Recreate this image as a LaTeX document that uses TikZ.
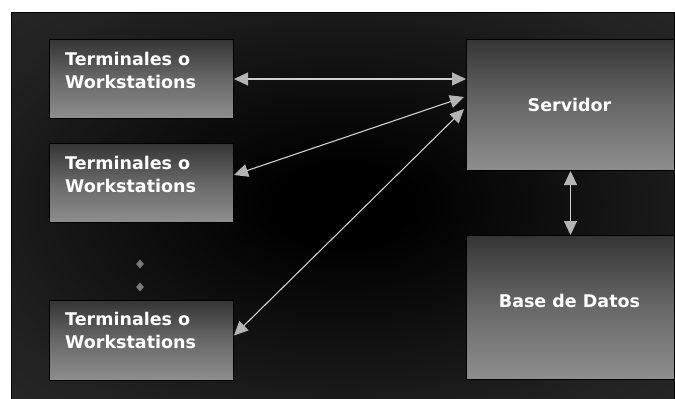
\documentclass[tikz,border=0pt]{standalone}
\usepackage{fontspec}
\setmainfont{DejaVu Sans}
\usetikzlibrary{arrows.meta,shapes.geometric,calc}

\definecolor{panelrim}{HTML}{303030}
\definecolor{boxtop}{HTML}{353535}
\definecolor{boxmid}{HTML}{686868}
\definecolor{boxbot}{HTML}{8E8E8E}
\definecolor{linkgray}{HTML}{CFCFCF}
\definecolor{tipgray}{HTML}{B4B4B4}
\definecolor{dotgray}{HTML}{7A7A7A}

% dark backdrop, black in the middle and lighter towards the rim
\pgfdeclareradialshading{panelglow}{\pgfpoint{0bp}{0bp}}{%
  color(0bp)=(black); color(5bp)=(black);
  color(30bp)=(panelrim!70!black); color(50bp)=(panelrim)}

\begin{document}
\begin{tikzpicture}[x=1pt,y=-1pt,
  unitbox/.style={draw=black, line width=1pt, rectangle, inner sep=0pt,
    anchor=north west, top color=boxtop, bottom color=boxbot,
    middle color=boxmid},
  boxtext/.style={text=white, inner sep=0pt,
    font=\fontsize{17.5}{23}\selectfont\bfseries},
  link/.style={draw=linkgray, line width=1.1pt,
    {Triangle[length=14pt,width=13pt,color=tipgray]}-{Triangle[length=14pt,width=13pt,color=tipgray]}},
  gap/.style={diamond, fill=dotgray, inner sep=0pt, minimum width=8pt,
    minimum height=9pt}]

\useasboundingbox (0,0) rectangle (675,399);

% backdrop
\shade[shading=panelglow] (11,12) rectangle (675,399);
\draw[black, line width=1pt] (11.5,399) -- (11.5,12.5) -- (674.5,12.5) -- (674.5,399);

% client boxes
\node[unitbox, minimum width=184pt, minimum height=79pt] (t1) at (49,39) {};
\node[unitbox, minimum width=184pt, minimum height=79pt] (t2) at (49,143) {};
\node[unitbox, minimum width=184pt, minimum height=80pt] (t3) at (49,300) {};

\node[boxtext, anchor=north west, align=left] (t1lbl)
  at ([shift={(16,13)}]t1.north west) {Terminales o\\Workstations};
\node[boxtext, anchor=north west, align=left] (t2lbl)
  at ([shift={(16,13)}]t2.north west) {Terminales o\\Workstations};
\node[boxtext, anchor=north west, align=left] (t3lbl)
  at ([shift={(16,12)}]t3.north west) {Terminales o\\Workstations};

% ellipsis between the clients
\node[gap] (d1) at (140,264) {};
\node[gap] (d2) at (140,287) {};

% server and database
\node[unitbox, minimum width=208pt, minimum height=131pt] (srv) at (466,39) {};
\node[unitbox, minimum width=208pt, minimum height=144pt] (bd) at (466,235) {};

\node[boxtext] (srvlbl) at ($(srv.center)+(-1,0)$) {Servidor};
\node[boxtext] (bdlbl) at ($(bd.center)+(-1,-7)$) {Base de Datos};

% connections
\draw[link] (t1.east) -- (srv.west |- t1.east);
\draw[link] ($(t2.east)+(0,-8)$) -- ($(srv.west)+(-2,-8)$);
\draw[link] ($(t3.east)+(0,-5)$) -- ($(srv.west)+(-2,4)$);
\draw[link] (srv.south) -- (bd.north);

\end{tikzpicture}
\end{document}
